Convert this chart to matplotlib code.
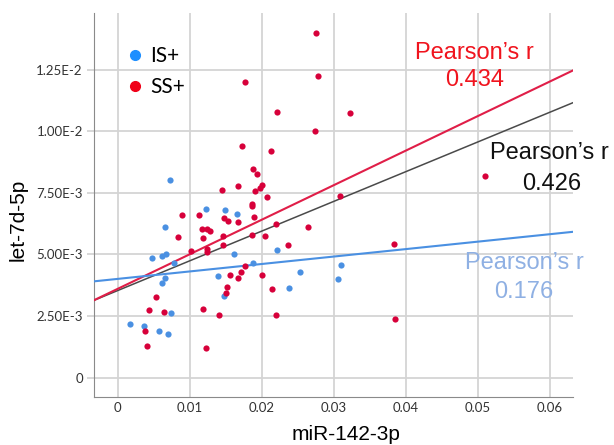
import matplotlib
matplotlib.use("Agg")
import matplotlib.pyplot as plt
from matplotlib.lines import Line2D
import numpy as np

# IS+ group (blue)
is_x = [0.00717, 0.01222, 0.0149, 0.01653, 0.00648, 0.00468, 0.00611, 0.00671,
        0.00778, 0.00648, 0.00606, 0.0074, 0.00171, 0.00361, 0.00569, 0.00699,
        0.01616, 0.02208, 0.0188, 0.01394, 0.02523, 0.02379, 0.01472, 0.03093, 0.0306]
is_y = [0.00802, 0.00686, 0.0068, 0.00666, 0.00613, 0.00484, 0.00494, 0.00503,
        0.00464, 0.00405, 0.00386, 0.00261, 0.00217, 0.00211, 0.0019, 0.00176,
        0.00501, 0.00517, 0.00464, 0.00414, 0.0043, 0.00364, 0.0033, 0.00456, 0.00402]

# SS+ group (red)
ss_x = [0.01764, 0.02208, 0.01722, 0.0212, 0.01875, 0.01935, 0.01449, 0.01667,
        0.01995, 0.01968, 0.01903, 0.02074, 0.00884, 0.01125, 0.01866, 0.01866,
        0.01893, 0.02754, 0.02782, 0.03231, 0.02731, 0.05097, 0.03088, 0.01467,
        0.01523, 0.01662, 0.01171, 0.0124, 0.0128, 0.01185, 0.01463, 0.01861,
        0.02046, 0.02194, 0.02357, 0.02643, 0.0124, 0.0124, 0.01463, 0.00833,
        0.01014, 0.00532, 0.00431, 0.00634, 0.0118, 0.0037, 0.00398, 0.01222,
        0.01764, 0.0156, 0.01704, 0.01671, 0.02004, 0.02143, 0.01518, 0.015,
        0.01407, 0.0219, 0.03833, 0.03851]
ss_y = [0.01199, 0.01077, 0.0094, 0.00921, 0.00848, 0.00828, 0.0076, 0.00777,
        0.00781, 0.00771, 0.00756, 0.00732, 0.00661, 0.00659, 0.00705, 0.00696,
        0.00653, 0.0140, 0.01223, 0.01073, 0.01001, 0.00817, 0.00739, 0.00648,
        0.00637, 0.00631, 0.00605, 0.00605, 0.00597, 0.00567, 0.00575, 0.00578,
        0.00575, 0.00623, 0.00539, 0.0061, 0.00524, 0.00511, 0.00537, 0.00572,
        0.00515, 0.00327, 0.00275, 0.00268, 0.00279, 0.0019, 0.0013, 0.00122,
        0.00453, 0.00417, 0.00429, 0.00406, 0.00417, 0.0036, 0.00367, 0.00345,
        0.00253, 0.00253, 0.00541, 0.00237]

# fit lines (intercept, slope) and r values
fit_ss = (0.00361, 0.1401)
fit_all = (0.00354, 0.1205)
fit_is = (0.00401, 0.0302)
r_ss, r_all, r_is = "0.434", "0.426", "0.176"

xticks = [0, 0.01, 0.02, 0.03, 0.04, 0.05, 0.06]
xtick_labels = ["0", "0.01", "0.02", "0.03", "0.04", "0.05", "0.06"]
yticks = [0, 0.0025, 0.005, 0.0075, 0.01, 0.0125]
ytick_labels = ["0", "2.50E-3", "5.00E-3", "7.50E-3", "1.00E-2", "1.25E-2"]

fig = plt.figure(figsize=(6.14, 4.45), dpi=100)
ax = fig.add_axes([0.153, 0.108, 0.78, 0.863])

xmin, xmax = -0.00333, 0.0632
ax.set_xlim(xmin, xmax)
ax.set_ylim(-0.00078, 0.0148)

xs = np.array([xmin, xmax])
ax.plot(xs, fit_all[0] + fit_all[1] * xs, color="#4a4a4a", lw=1.1, zorder=3)
ax.plot(xs, fit_ss[0] + fit_ss[1] * xs, color="#e01e48", lw=1.5, zorder=3)
ax.plot(xs, fit_is[0] + fit_is[1] * xs, color="#4a90e2", lw=1.5, zorder=3)

ax.scatter(is_x, is_y, s=20, color="#4a90e2", linewidths=0, zorder=4)
ax.scatter(ss_x, ss_y, s=20, color="#d7003a", linewidths=0, zorder=4)

ax.set_xticks(xticks)
ax.set_xticklabels(xtick_labels)
ax.set_yticks(yticks)
ax.set_yticklabels(ytick_labels)
ax.grid(True, color="#d4d4d4", lw=1.3)
ax.set_axisbelow(True)
for s in ["top", "right"]:
    ax.spines[s].set_visible(False)
for s in ["left", "bottom"]:
    ax.spines[s].set_color("#8a8a8a")
ax.tick_params(axis="x", length=0, pad=4, labelsize=9.5, labelcolor="#333333")
ax.tick_params(axis="y", length=5, color="#d4d4d4", width=1.3, pad=3,
               labelsize=9.5, labelcolor="#333333")
for lab in ax.get_xticklabels() + ax.get_yticklabels():
    lab.set_family("Lato")

ax.set_xlabel("miR-142-3p", fontsize=15, family="Liberation Sans")
ax.xaxis.set_label_coords(0.527, -0.072)
ax.set_ylabel("let-7d-5p", fontsize=15, family="Liberation Sans")
ax.yaxis.set_label_coords(-0.138, 0.461)

handles = [Line2D([], [], marker="o", ls="", color="#1e8fff", markersize=7),
           Line2D([], [], marker="o", ls="", color="#f00018", markersize=7)]
ax.legend(handles, ["IS+", "SS+"], loc="upper left", bbox_to_anchor=(0.03, 0.963),
          frameon=False, prop={"family": "Lato", "size": 15},
          handlelength=0.8, handletextpad=0.3, labelspacing=0.55)

txt = dict(ha="center", va="center", fontsize=17, family="Liberation Sans",
           transform=ax.transAxes, clip_on=False)
ax.text(0.795, 0.895, "Pearson\u2019s r", color="#f0141e", **txt)
ax.text(0.795, 0.826, r_ss, color="#f0141e", **txt)
ax.text(0.952, 0.634, "Pearson\u2019s r", color="#111111", **txt)
ax.text(0.956, 0.555, r_all, color="#111111", **txt)
ax.text(0.898, 0.35, "Pearson\u2019s r", color="#8fb0e3", **txt)
ax.text(0.898, 0.273, r_is, color="#8fb0e3", **txt)

fig.savefig("out.png", dpi=100)
